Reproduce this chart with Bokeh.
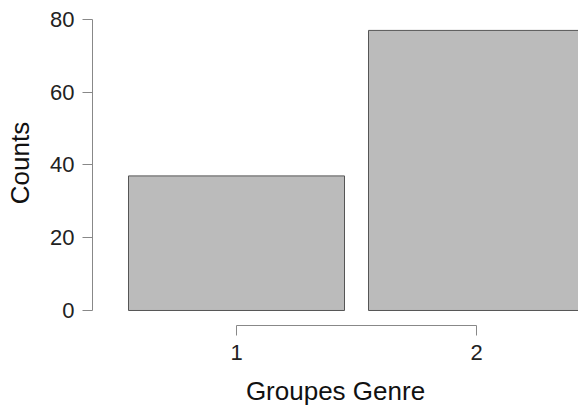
from bokeh.plotting import figure
from bokeh.models import ColumnDataSource, FixedTicker
from bokeh.embed import file_html
from bokeh.resources import INLINE

# Data
groups = [1, 2]
counts = [37, 77]
y_ticks = [0, 20, 40, 60, 80]
x_label = "Groupes Genre"
y_label = "Counts"

source = ColumnDataSource(dict(x=groups, top=counts))

FONT = "Liberation Sans"

p = figure(width=578, height=408, output_backend="svg", toolbar_location=None,
           x_range=(0.4, 2.425), y_range=(-4.124, 85.223),
           min_border_left=92, min_border_right=0, min_border_top=0,
           min_border_bottom=83)
p.outline_line_color = None
p.background_fill_color = "white"
p.border_fill_color = "white"
p.xgrid.visible = False
p.ygrid.visible = False

p.vbar(x="x", top="top", bottom=0, width=0.9, source=source,
       fill_color="#BBBBBB", line_color="#555555", line_width=1)

for ax in (p.xaxis[0], p.yaxis[0]):
    ax.axis_line_color = "#888888"
    ax.major_tick_line_color = "#888888"
    ax.major_tick_in = 0
    ax.major_tick_out = 10
    ax.minor_tick_line_color = None
    ax.major_label_text_font = FONT
    ax.major_label_text_font_size = "22px"
    ax.major_label_text_color = "#222222"
    ax.axis_label_text_font = FONT
    ax.axis_label_text_font_size = "26px"
    ax.axis_label_text_font_style = "normal"
    ax.axis_label_text_color = "#111111"

p.yaxis.ticker = FixedTicker(ticks=y_ticks)
p.yaxis.bounds = (0, 80)
p.yaxis.major_label_standoff = 8
p.yaxis.major_label_orientation = "horizontal"
p.yaxis.axis_label = y_label
p.yaxis.axis_label_standoff = 12

p.xaxis.ticker = FixedTicker(ticks=groups)
p.xaxis.bounds = (1, 2)
p.xaxis.major_label_standoff = 9
p.xaxis.axis_label = x_label
p.xaxis.axis_label_standoff = 13

open("out.html", "w").write(file_html(p, INLINE))
